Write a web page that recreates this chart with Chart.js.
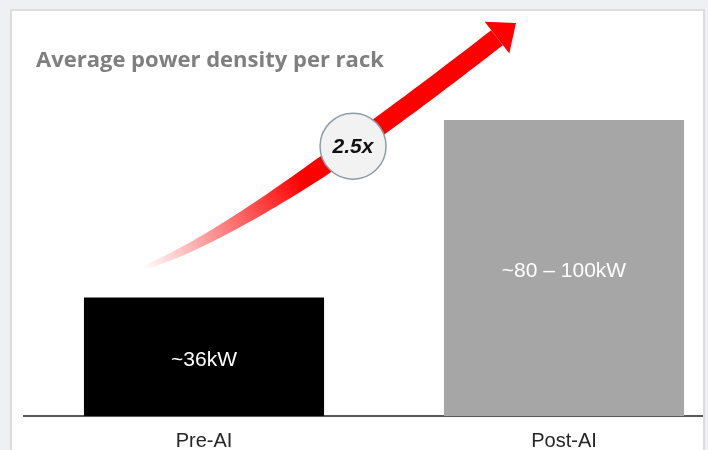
<!DOCTYPE html>
<html>
<head>
<meta charset="utf-8">
<script src="https://cdn.jsdelivr.net/npm/chart.js@4.4.1/dist/chart.umd.min.js"></script>
<style>
  html, body { margin: 0; padding: 0; background: #eff0f4; overflow: hidden; }
  #card {
    position: absolute; left: 10px; top: 9px;
    width: 691px; height: 500px;
    background: #ffffff; border: 2px solid #dcdcdc;
    overflow: hidden;
  }
  #wrap { position: absolute; left: -12px; top: -11px; width: 760px; height: 476px; }
</style>
</head>
<body>
<div id="card">
  <div id="wrap"><canvas id="densityChart"></canvas></div>
</div>
<script>
// chart data
var categories = ['Pre-AI', 'Post-AI'];
var densityKw = [36, 90];
var barLabels = ['~36kW', '~80 \u2013 100kW'];
var barColors = ['#000000', '#a6a6a6'];
var chartTitle = 'Average power density per rack';
var growthLabel = '2.5x';

// growth arrow, in (category index, kW) units
var arrowTail = [-0.17, 45];
var arrowBend = [0.122, 56];
var arrowEnd = [0.814, 115];
var badgeAt = [0.414, 82];

function toPx(chart, p) {
    var x = chart.scales.x, y = chart.scales.y;
    var x0 = x.getPixelForValue(0), x1 = x.getPixelForValue(1);
    return { x: x0 + (x1 - x0) * p[0], y: y.getPixelForValue(p[1]) };
}

function bez(a, b, c, t) {
    var u = 1 - t;
    return {
        x: u * u * a.x + 2 * u * t * b.x + t * t * c.x,
        y: u * u * a.y + 2 * u * t * b.y + t * t * c.y
    };
}

var decorPlugin = {
    id: 'decor',
    afterDatasetsDraw: function(chart) {
        var ctx = chart.ctx;
        var meta = chart.getDatasetMeta(0);

        // labels inside the bars
        ctx.save();
        ctx.fillStyle = '#ffffff';
        ctx.font = '21px Arial, "Liberation Sans", sans-serif';
        ctx.textAlign = 'center';
        ctx.textBaseline = 'middle';
        meta.data.forEach(function(bar, i) {
            ctx.fillText(barLabels[i], bar.x, (bar.y + bar.base) / 2 + 3);
        });
        ctx.restore();

        // curved arrow
        var a = toPx(chart, arrowTail), b = toPx(chart, arrowBend), c = toPx(chart, arrowEnd);
        var n = 60, left = [], right = [];
        for (var i = 0; i <= n; i++) {
            var t = i / n;
            var p = bez(a, b, c, t);
            var dx = 2 * (1 - t) * (b.x - a.x) + 2 * t * (c.x - b.x);
            var dy = 2 * (1 - t) * (b.y - a.y) + 2 * t * (c.y - b.y);
            var len = Math.sqrt(dx * dx + dy * dy);
            var nx = -dy / len, ny = dx / len;
            var w = (4 + 15 * Math.min(1, t / 0.6)) / 2;
            left.push({ x: p.x + nx * w, y: p.y + ny * w });
            right.push({ x: p.x - nx * w, y: p.y - ny * w });
        }
        var mid = bez(a, b, c, 0.55);
        var grad = ctx.createLinearGradient(a.x, a.y, mid.x, mid.y);
        grad.addColorStop(0, 'rgba(255,0,0,0)');
        grad.addColorStop(0.35, 'rgba(255,0,0,0.35)');
        grad.addColorStop(1, 'rgba(255,0,0,1)');
        ctx.save();
        ctx.fillStyle = grad;
        ctx.beginPath();
        ctx.moveTo(left[0].x, left[0].y);
        left.forEach(function(q) { ctx.lineTo(q.x, q.y); });
        for (var j = right.length - 1; j >= 0; j--) ctx.lineTo(right[j].x, right[j].y);
        ctx.closePath();
        ctx.fill();

        // arrow head
        var ex = c.x - b.x, ey = c.y - b.y;
        var el = Math.sqrt(ex * ex + ey * ey);
        ex /= el; ey /= el;
        var px = -ey, py = ex;
        ctx.fillStyle = '#ff0000';
        ctx.beginPath();
        ctx.moveTo(c.x + px * 20, c.y + py * 20);
        ctx.lineTo(c.x + ex * 24, c.y + ey * 24);
        ctx.lineTo(c.x - px * 20, c.y - py * 20);
        ctx.closePath();
        ctx.fill();

        // badge
        var m = toPx(chart, badgeAt);
        ctx.beginPath();
        ctx.arc(m.x, m.y, 33, 0, Math.PI * 2);
        ctx.fillStyle = '#f2f2f2';
        ctx.fill();
        ctx.lineWidth = 1.5;
        ctx.strokeStyle = '#8d9ca6';
        ctx.stroke();
        ctx.fillStyle = '#111111';
        ctx.font = 'italic bold 21px Arial, "Liberation Sans", sans-serif';
        ctx.textAlign = 'center';
        ctx.textBaseline = 'middle';
        ctx.fillText(growthLabel, m.x, m.y + 1);

        // title
        ctx.fillStyle = '#7f7f7f';
        ctx.font = 'bold 22px "Open Sans", sans-serif';
        ctx.textAlign = 'left';
        ctx.textBaseline = 'alphabetic';
        ctx.fillText(chartTitle, 36, 67);
        ctx.restore();
    }
};

var ctx = document.getElementById('densityChart').getContext('2d');
var densityChart = new Chart(ctx, {
    type: 'bar',
    data: {
        labels: categories,
        datasets: [{
            data: densityKw,
            backgroundColor: barColors,
            borderWidth: 0,
            barPercentage: 0.667,
            categoryPercentage: 1.0
        }]
    },
    options: {
        responsive: true,
        maintainAspectRatio: false,
        animation: false,
        layout: {
            padding: { left: 24, right: 16, top: 87, bottom: 18 }
        },
        plugins: {
            legend: { display: false },
            tooltip: { enabled: false },
            title: { display: false }
        },
        scales: {
            x: {
                grid: { display: false },
                border: { display: true, color: '#595959', width: 2 },
                ticks: {
                    color: '#262626',
                    padding: 5,
                    font: { family: 'Arial, "Liberation Sans", sans-serif', size: 20 }
                }
            },
            y: {
                display: false,
                min: 0,
                max: 100
            }
        }
    },
    plugins: [decorPlugin]
});
</script>
</body>
</html>
